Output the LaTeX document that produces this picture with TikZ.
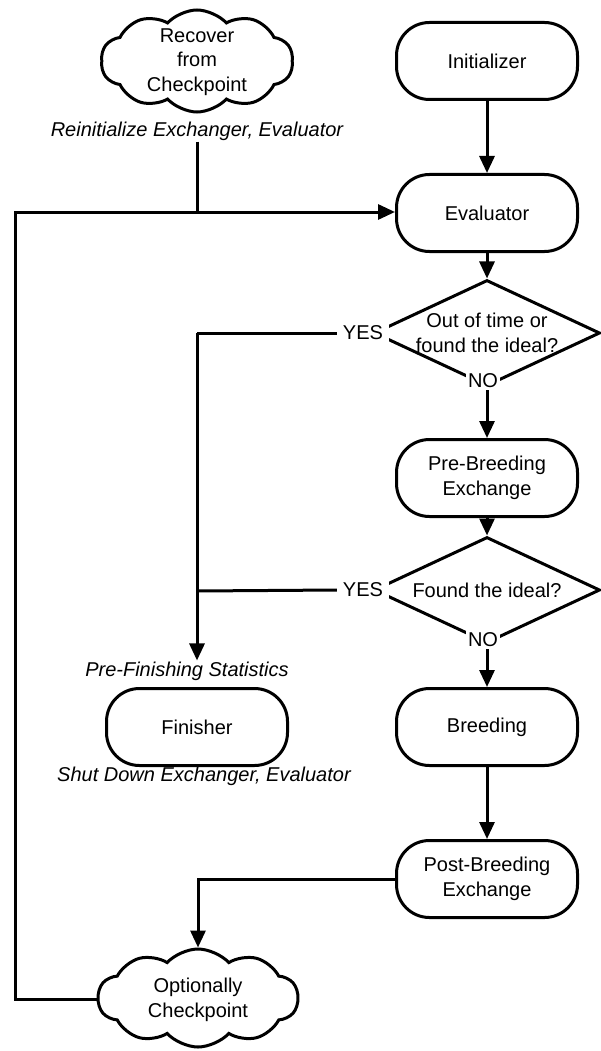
\documentclass[tikz,border=0pt]{standalone}
\usepackage{fontspec}
\setmainfont{Liberation Sans}
\usetikzlibrary{shapes.geometric,shapes.symbols,arrows.meta}
\begin{document}
\begin{tikzpicture}[x=1pt,y=-1pt,
  every node/.style={font=\fontsize{20}{24.5}\selectfont},
  proc/.style={draw, line width=3pt, rounded corners=33pt, minimum width=181pt,
    minimum height=77pt, align=center, inner sep=2pt},
  test/.style={draw, line width=3pt, diamond, minimum width=226pt,
    minimum height=106pt, inner sep=0pt},
  puff/.style={draw, line width=3pt, cloud, cloud puffs=10, cloud puff arc=95,
    cloud ignores aspect, inner sep=0pt},
  words/.style={align=center, inner sep=1pt},
  note/.style={font=\fontsize{20}{24.5}\selectfont\itshape, inner sep=1pt},
  tag/.style={fill=white, inner xsep=6pt, inner ysep=2pt},
  link/.style={line width=3pt},
  flow/.style={link, -{Triangle[length=17pt,width=15pt]}}
]
\useasboundingbox (0,0) rectangle (600,1051);

% main column
\node[proc] (init) at (487,61)  {Initializer};
\node[proc] (eval) at (487,213) {Evaluator};
\node[test] (q1) at (487,333) {};
\node[words] (q1t) at (487,333) {Out of time or\\found the ideal?};
\node[tag] (yes1) at (363,333) {YES};
\node[tag, inner xsep=2pt] (no1) at (483,381) {NO};
\node[proc] (pre) at (487,478) {Pre-Breeding\\Exchange};
\node[test] (q2) at (487,590) {};
\node[words] (q2t) at (487,590) {Found the ideal?};
\node[tag] (yes2) at (363,590) {YES};
\node[tag, inner xsep=2pt] (no2) at (483,640) {NO};
\node[proc] (breed) at (487,727) {Breeding};
\node[proc] (post) at (487,879) {Post-Breeding\\Exchange};

% left column
\node[puff, minimum width=192pt, minimum height=102pt] (rec) at (197,61) {};
\node[words] (rect) at (197,62) {Recover\\from\\Checkpoint};
\node[note] (reinit) at (197,131) {Reinitialize Exchanger, Evaluator};
\node[note] (prefin) at (187,671) {Pre-Finishing Statistics};
\node[proc] (fin) at (197,727) {Finisher};
\node[note] (shut) at (204,776) {Shut Down Exchanger, Evaluator};
\node[puff, minimum width=200pt, minimum height=98pt] (opt) at (198,998) {};
\node[words] (optt) at (198,1000) {Optionally\\Checkpoint};

% bends of the connectors
\coordinate (j0) at (197,212);
\coordinate (j1) at (197,333);
\coordinate (j2) at (197,591);
\coordinate (lb) at (15,999);
\coordinate (lt) at (15,212);

% connectors
\draw[flow] (init) -- (eval);
\draw[flow] (eval) -- (q1);
\draw[flow] (pre.north |- no1.south) -- (pre);
\draw[flow] (pre) -- (q2);
\draw[flow] (breed.north |- no2.south) -- (breed);
\draw[flow] (breed) -- (post);
\draw[flow] (post.west) -| (opt.north);
\draw[flow] (opt.west |- lb) -- (lb) -- (lt) -- (eval.west |- lt);
\draw[link] (reinit.south -| j0) -- (j0);
\draw[link] (yes1.west) -- (j1);
\draw[flow] (j1) -- (j1 |- prefin.north);
\draw[link] (yes2.west) -- (j2);
\end{tikzpicture}
\end{document}
